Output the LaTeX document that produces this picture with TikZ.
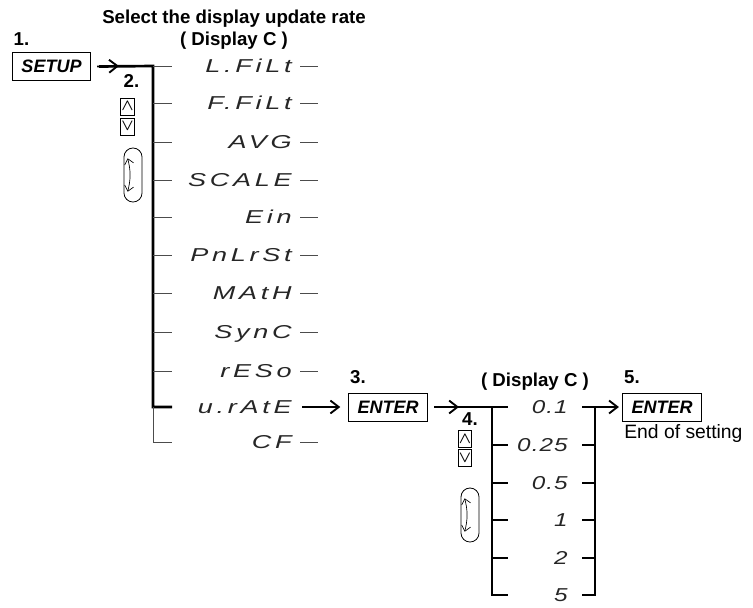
\documentclass[tikz,border=0pt]{standalone}
\usepackage{fontspec}
\setmainfont{Liberation Sans}
\newfontfamily\segfont{Liberation Sans}[FakeStretch=1.45,LetterSpace=20]
\newfontfamily\digfont{Liberation Sans}[FakeStretch=1.3,LetterSpace=6]
\usetikzlibrary{positioning,arrows.meta}

\begin{document}
\begin{tikzpicture}[x=0.75pt,y=-0.75pt,
    key/.style={draw,line width=0.6pt,minimum width=59pt,minimum height=21pt,inner sep=0pt,
      font=\fontsize{13.5}{15}\selectfont\bfseries\itshape},
    stepno/.style={anchor=base,inner sep=0pt,font=\fontsize{14}{16}\selectfont\bfseries},
    seg/.style={anchor=east,inner sep=0pt,text height=10pt,text depth=0pt,text=black!85,
      font=\segfont\fontsize{14}{16}\selectfont\itshape},
    digit/.style={seg,font=\digfont\fontsize{14}{16}\selectfont\itshape},
    updown/.style={draw,line width=0.6pt,minimum width=10pt,minimum height=12.75pt,inner sep=0pt,
      font=\fontsize{12}{12}\selectfont\boldmath},
    knob/.style={draw,line width=0.6pt,rounded corners=6.7pt,minimum width=13.5pt,minimum height=40.5pt},
    spin/.style={line width=0.5pt,{Straight Barb[length=1.4mm,width=2.4mm]}-{Straight Barb[length=1.4mm,width=2.4mm]}},
    bar/.style={line width=2pt},
    tick/.style={line width=0.6pt,black!70},
    arr/.style={line width=1.4pt,-{Straight Barb[length=2.2mm,width=3.4mm]}}]
  \useasboundingbox (0,0) rectangle (753,607);

  \node[stepno] (title) at (234,23.4) {Select the display update rate};
  \node[stepno] (dispL) at (234,45.4) {( Display C )};
  \node[stepno] (n1) at (21.5,45) {1.};
  \node[key] (setup) at (51.5,66.5) {SETUP};

  \node[stepno] (n2) at (131.5,87) {2.};
  \node[updown] (up1) at (127.5,106.5) {$\wedge$};
  \node[updown] (down1) at (127.5,126.5) {$\vee$};
  \node[knob] (knob1) at (133,175) {};
  \draw[spin] ([xshift=-4pt,yshift=-8pt]knob1.north) to[bend left=14] ([xshift=-4pt,yshift=8pt]knob1.south);

  \node[seg] (m1) at (292,66) {L.FiLt};
  \node[seg] (m2) at (292,103) {F.FiLt};
  \node[seg] (m3) at (292,142) {AVG};
  \node[seg] (m4) at (292,180) {SCALE};
  \node[seg] (m5) at (292,217) {Ein};
  \node[seg] (m6) at (292,255) {PnLrSt};
  \node[seg] (m7) at (292,293) {MAtH};
  \node[seg] (m8) at (292,332) {SynC};
  \node[seg] (m9) at (292,371) {rESo};
  \node[seg] (m10) at (292,407) {u.rAtE};
  \node[seg] (m11) at (292,442) {CF};

  \coordinate (topL) at (153,66);
  \draw[bar] ([xshift=6pt]setup.east) -- (topL) -- (153,407) -- (172,407);
  \draw[arr] ([xshift=4.5pt]setup.east) -- (119,66);
  \draw[tick] (topL) -- (172,66);
  \draw[tick] (153,407) -- (153,442) -- (172,442);
  \draw[tick] (153,103) -- (172,103);
  \draw[tick] (153,142) -- (172,142);
  \draw[tick] (153,180) -- (172,180);
  \draw[tick] (153,217) -- (172,217);
  \draw[tick] (153,255) -- (172,255);
  \draw[tick] (153,293) -- (172,293);
  \draw[tick] (153,332) -- (172,332);
  \draw[tick] (153,371) -- (172,371);

  \draw[tick] ([xshift=6pt]m1.east) -- ++(13.5pt,0);
  \draw[tick] ([xshift=6pt]m2.east) -- ++(13.5pt,0);
  \draw[tick] ([xshift=6pt]m3.east) -- ++(13.5pt,0);
  \draw[tick] ([xshift=6pt]m4.east) -- ++(13.5pt,0);
  \draw[tick] ([xshift=6pt]m5.east) -- ++(13.5pt,0);
  \draw[tick] ([xshift=6pt]m6.east) -- ++(13.5pt,0);
  \draw[tick] ([xshift=6pt]m7.east) -- ++(13.5pt,0);
  \draw[tick] ([xshift=6pt]m8.east) -- ++(13.5pt,0);
  \draw[tick] ([xshift=6pt]m9.east) -- ++(13.5pt,0);
  \draw[tick] ([xshift=6pt]m11.east) -- ++(13.5pt,0);

  \node[stepno] (n3) at (358,383) {3.};
  \node[key] (enter1) at (388,407) {ENTER};
  \draw[arr,shorten >=6pt] ([xshift=7.5pt]m10.east) -- (enter1.west);

  \node[stepno] (dispR) at (535,386.5) {( Display C )};
  \node[stepno] (n4) at (470,425.5) {4.};
  \node[updown] (up2) at (465,439) {$\wedge$};
  \node[updown] (down2) at (465,458) {$\vee$};
  \node[knob] (knob2) at (470,515) {};
  \draw[spin] ([xshift=-4pt,yshift=-8pt]knob2.north) to[bend left=14] ([xshift=-4pt,yshift=8pt]knob2.south);

  \node[digit] (v1) at (568,407) {0.1};
  \node[digit] (v2) at (568,445) {0.25};
  \node[digit] (v3) at (568,483) {0.5};
  \node[digit] (v4) at (568,520) {1};
  \node[digit] (v5) at (568,558) {2};
  \node[digit] (v6) at (568,595) {5};

  \coordinate (topR) at (492,407);
  \draw[bar] ([xshift=5pt]enter1.east) -- (topR) -- (492,595) -- (508,595);
  \draw[arr] ([xshift=5pt]enter1.east) -- (459,407);
  \draw[bar] (topR) -- (508,407);
  \draw[bar] (492,445) -- (508,445);
  \draw[bar] (492,483) -- (508,483);
  \draw[bar] (492,520) -- (508,520);
  \draw[bar] (492,558) -- (508,558);
  \draw[bar] (582,407) -- (595,407) -- (595,595) -- (582,595);
  \draw[bar] (582,445) -- (595,445);
  \draw[bar] (582,483) -- (595,483);
  \draw[bar] (582,520) -- (595,520);
  \draw[bar] (582,558) -- (595,558);

  \node[stepno] (n5) at (632,383) {5.};
  \node[key] (enter2) at (662,407) {ENTER};
  \draw[arr,shorten >=2.5pt] ([xshift=10.5pt]v1.east) -- (enter2.west);
  \node[anchor=base west,inner sep=0pt,font=\fontsize{14.5}{16}\selectfont] (endtxt) at (624,438) {End of setting};
\end{tikzpicture}
\end{document}
